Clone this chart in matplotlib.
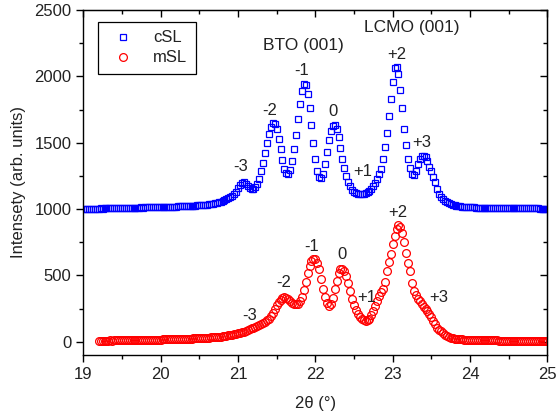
import numpy as np
import matplotlib
matplotlib.use("Agg")
import matplotlib.pyplot as plt

plt.rcParams['font.family'] = ['Liberation Sans', 'DejaVu Sans']

# barrido en 2theta (paso 0.025 grados)
paso = 0.025
x0_csl = 19.0
x0_msl = 19.2

# cSL (desplazada +1000)
y_csl = [
    1002, 1001, 1003, 1002, 1003, 1002, 1004, 1003, 1004, 1005,  # 19.000
    1004, 1005, 1006, 1005, 1006, 1007, 1006, 1007, 1008, 1007,  # 19.250
    1008, 1009, 1008, 1009, 1010, 1009, 1010, 1011, 1010, 1011,  # 19.500
    1012, 1011, 1012, 1013, 1012, 1013, 1014, 1013, 1014, 1015,  # 19.750
    1015, 1016, 1015, 1017, 1016, 1018, 1017, 1019, 1018, 1020,  # 20.000
    1022, 1024, 1026, 1025, 1023, 1022, 1024, 1025, 1026, 1027,  # 20.250
    1028, 1029, 1030, 1032, 1034, 1036, 1038, 1040, 1043, 1046,  # 20.500
    1050, 1055, 1060, 1066, 1073, 1081, 1090, 1102, 1116, 1132,  # 20.750
    1155, 1180, 1198, 1200, 1190, 1175, 1160, 1152, 1152, 1165,  # 21.000
    1190, 1230, 1285, 1350, 1420, 1495, 1565, 1620, 1648, 1640,  # 21.250
    1600, 1530, 1450, 1370, 1305, 1268, 1265, 1295, 1360, 1450,  # 21.500
    1560, 1680, 1790, 1890, 1945, 1935, 1870, 1760, 1630, 1500,  # 21.750
    1380, 1290, 1240, 1232, 1265, 1340, 1430, 1520, 1590, 1628,  # 22.000
    1630, 1600, 1540, 1460, 1380, 1310, 1250, 1205, 1170, 1145,  # 22.250
    1130, 1120, 1115, 1112, 1112, 1115, 1120, 1128, 1138, 1150,  # 22.500
    1170, 1195, 1230, 1262, 1305, 1375, 1465, 1575, 1700, 1830,  # 22.750
    1960, 2060, 2070, 2020, 1900, 1760, 1600, 1480, 1380, 1310,  # 23.000
    1265, 1255, 1290, 1340, 1380, 1398, 1400, 1390, 1360, 1320,  # 23.250
    1285, 1245, 1200, 1150, 1110, 1088, 1072, 1060, 1052, 1046,  # 23.500
    1040, 1034, 1029, 1025, 1022, 1020, 1018, 1016, 1015, 1014,  # 23.750
    1013, 1012, 1012, 1011, 1011, 1010, 1010, 1010, 1009, 1009,  # 24.000
    1009, 1008, 1008, 1008, 1008, 1007, 1007, 1007, 1007, 1007,  # 24.250
    1006, 1006, 1006, 1006, 1006, 1006, 1006, 1005, 1005, 1005,  # 24.500
    1005, 1005, 1005, 1005, 1005, 1005, 1004, 1004, 1004, 1004,  # 24.750
    1004,                                                        # 25.000
]

# mSL
y_msl = [
    8, 8, 9, 8, 9, 9, 10, 9, 10, 10,                 # 19.200
    11, 10, 11, 11, 12, 11, 12, 12, 13, 12,          # 19.450
    13, 13, 14, 13, 14, 14, 15, 14, 15, 15,          # 19.700
    16, 16,                                          # 19.950
    16, 17, 17, 18, 18, 19, 19, 20, 20, 21,          # 20.000
    21, 22, 22, 23, 23, 24, 24, 25, 25, 26,          # 20.250
    27, 28, 28, 29, 30, 31, 32, 33, 34, 35,          # 20.500
    37, 39, 41, 43, 45, 48, 51, 54, 57, 60,          # 20.750
    64, 68, 72, 77, 82, 88, 94, 100, 107, 113,       # 21.000
    120, 127, 135, 143, 152, 162, 175, 192, 215, 245,  # 21.250
    275, 300, 318, 330, 335, 332, 320, 305, 292, 285,  # 21.500
    283, 288, 305, 340, 390, 450, 515, 570, 608, 624,  # 21.750
    620, 595, 545, 475, 400, 335, 290, 272, 285, 330,  # 22.000
    395, 460, 515, 545, 550, 535, 495, 440, 380, 325,  # 22.250
    278, 240, 210, 188, 172, 162, 158, 162, 175, 198,  # 22.500
    230, 270, 310, 345, 375, 400, 450, 530, 600, 660,  # 22.750
    740, 800, 850, 876, 865, 820, 750, 670, 590, 530,  # 23.000
    440, 385, 350, 325, 305, 285, 262, 245, 228, 212,  # 23.250
    190, 160, 130, 105, 90, 80, 65, 52, 43, 36,        # 23.500
    31, 27, 24, 22, 20, 18, 17, 16, 15, 14,            # 23.750
    13, 13, 12, 12, 12, 11, 11, 11, 11, 10,            # 24.000
    10, 10, 10, 10, 10, 9, 9, 9, 9, 9,                 # 24.250
    9, 9, 9, 9, 8, 8, 8, 8, 8, 8,                      # 24.500
    8, 8, 8, 8, 8, 8, 8, 8, 8, 8,                      # 24.750
    8,                                                 # 25.000
]

x_csl = x0_csl + paso * np.arange(len(y_csl))
x_msl = x0_msl + paso * np.arange(len(y_msl))

# etiquetas de los satelites
orden = ["-3", "-2", "-1", "0", "+1", "+2", "+3"]
pos_csl = [(21.03, 1318), (21.41, 1745), (21.82, 2041), (22.23, 1732),
           (22.61, 1280), (23.05, 2166), (23.38, 1498)]
pos_msl = [(21.15, 201), (21.59, 444), (21.95, 715), (22.34, 660),
           (22.67, 334), (23.07, 971), (23.60, 334)]

color_txt = '#222222'

fig = plt.figure(figsize=(5.56, 4.18), dpi=100)
ax = fig.add_axes([0.1498, 0.1507, 0.8346, 0.8254])

ax.plot(x_csl, y_csl, 's', ms=4.6, mfc='none', mec='#0000FF', mew=0.9, label='cSL')
ax.plot(x_msl, y_msl, 'o', ms=5.6, mfc='none', mec='#FF0000', mew=0.9, label='mSL')

for t, (xx, yy) in zip(orden, pos_csl):
    ax.text(xx, yy, t, ha='center', va='center', fontsize=12, color=color_txt)
for t, (xx, yy) in zip(orden, pos_msl):
    ax.text(xx, yy, t, ha='center', va='center', fontsize=12, color=color_txt)

ax.text(21.85, 2234, "BTO (001)", ha='center', va='center', fontsize=12.5, color=color_txt)
ax.text(23.25, 2367, "LCMO (001)", ha='center', va='center', fontsize=12.5, color=color_txt)

ax.set_xlim(19, 25)
ax.set_ylim(-100, 2500)
ax.set_xticks(np.arange(19, 25.5, 1))
ax.set_xticks(np.arange(19.5, 25, 1), minor=True)
ax.set_yticks(np.arange(0, 2501, 500))
ax.set_yticks(np.arange(250, 2500, 500), minor=True)

ax.tick_params(which='both', direction='out', labelsize=12, labelcolor=color_txt, width=1)
ax.tick_params(which='major', length=5)
ax.tick_params(which='minor', length=3)
for s in ax.spines.values():
    s.set_linewidth(1.0)

# ejes de arriba y derecha con marcas hacia dentro
arriba = ax.secondary_xaxis('top')
arriba.set_xticks(np.arange(19, 25.5, 1))
arriba.set_xticks(np.arange(19.5, 25, 1), minor=True)
arriba.tick_params(which='both', direction='in', labeltop=False, width=1)
arriba.tick_params(which='major', length=5)
arriba.tick_params(which='minor', length=3)
derecha = ax.secondary_yaxis('right')
derecha.set_yticks(np.arange(0, 2501, 500))
derecha.set_yticks(np.arange(250, 2500, 500), minor=True)
derecha.tick_params(which='both', direction='in', labelright=False, width=1)
derecha.tick_params(which='major', length=5)
derecha.tick_params(which='minor', length=3)

ax.set_xlabel("2θ (°)", fontsize=12, color=color_txt, labelpad=10)
ax.set_ylabel("Intensety (arb. units)", fontsize=12, color=color_txt, labelpad=6)

leg = ax.legend(loc='upper left', bbox_to_anchor=(0.032, 0.965), borderaxespad=0,
                numpoints=1, fontsize=12, fancybox=False, framealpha=1,
                edgecolor='black', handletextpad=0.8, borderpad=0.5, labelspacing=0.3)
leg.get_frame().set_linewidth(0.9)
for txt in leg.get_texts():
    txt.set_color(color_txt)

fig.savefig("out.png", dpi=100)
